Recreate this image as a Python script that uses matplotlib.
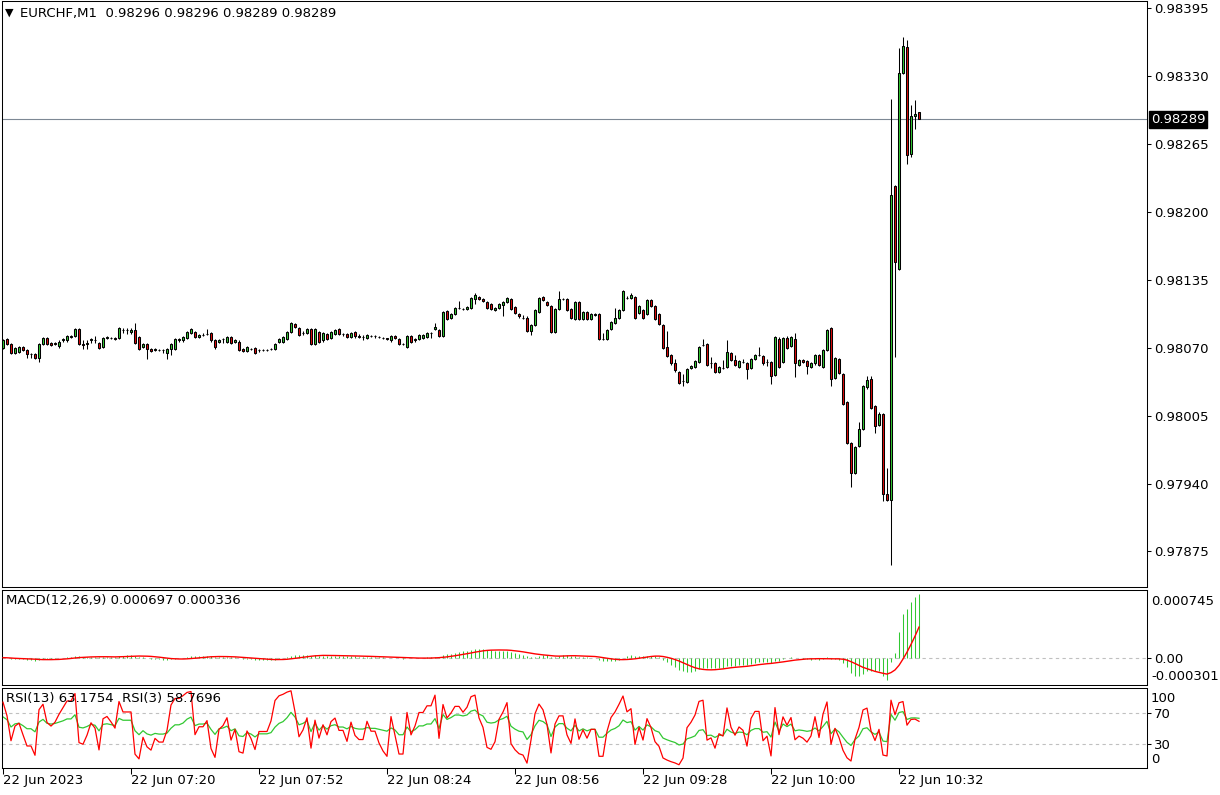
import numpy as np
import matplotlib
matplotlib.use("Agg")
import matplotlib.pyplot as plt

# ---------------- data (EURCHF M1, prices in points of 0.00001) ----------------
POINT = 1e-5
SYMBOL = "EURCHF,M1"
TIME_LABELS = ["22 Jun 2023", "22 Jun 07:20", "22 Jun 07:52", "22 Jun 08:24",
               "22 Jun 08:56", "22 Jun 09:28", "22 Jun 10:00", "22 Jun 10:32"]
TIME_LABEL_BARS = [0, 32, 64, 96, 128, 160, 192, 224]
PRICE_TICKS = [0.97875, 0.97940, 0.98005, 0.98070, 0.98135, 0.98200, 0.98265, 0.98330, 0.98395]

OPEN_PTS = [
    98070, 98078, 98074, 98065, 98066, 98071, 98068, 98064, 98064, 98060,
    98074, 98079, 98075, 98075, 98072, 98077, 98077, 98080, 98081, 98088,
    98074, 98074, 98077, 98077, 98075, 98071, 98079, 98079, 98079, 98079,
    98087, 98087, 98085, 98087, 98080, 98071, 98074, 98069, 98068, 98068,
    98068, 98065, 98069, 98069, 98077, 98077, 98079, 98084, 98085, 98080,
    98082, 98083, 98084, 98077, 98076, 98078, 98076, 98080, 98076, 98076,
    98069, 98067, 98069, 98070, 98068, 98068, 98068, 98069, 98069, 98076,
    98076, 98078, 98085, 98093, 98089, 98084, 98084, 98088, 98074, 98085,
    98077, 98083, 98079, 98083, 98088, 98083, 98083, 98080, 98085, 98081,
    98080, 98079, 98081, 98081, 98080, 98079, 98079, 98077, 98081, 98078,
    98074, 98071, 98081, 98077, 98078, 98079, 98080, 98084, 98088, 98087,
    98081, 98105, 98099, 98102, 98108, 98107, 98107, 98108, 98117, 98119,
    98117, 98114, 98112, 98106, 98108, 98111, 98114, 98117, 98109, 98102,
    98099, 98099, 98086, 98092, 98104, 98119, 98114, 98110, 98085, 98107,
    98117, 98117, 98107, 98098, 98114, 98098, 98104, 98098, 98101, 98102,
    98078, 98078, 98088, 98094, 98099, 98106, 98118, 98118, 98119, 98103,
    98106, 98102, 98116, 98110, 98102, 98092, 98071, 98063, 98055, 98047,
    98038, 98037, 98051, 98052, 98056, 98073, 98074, 98055, 98055, 98047,
    98051, 98052, 98065, 98058, 98052, 98056, 98055, 98051, 98059, 98063,
    98062, 98056, 98056, 98044, 98078, 98056, 98079, 98072, 98078, 98054,
    98058, 98057, 98052, 98055, 98063, 98052, 98068, 98089, 98041, 98059,
    98045, 98018, 97979, 97950, 97976, 97992, 98032, 98040, 98014, 97996,
    98007, 97930, 97924, 98225, 98145, 98333, 98358, 98256, 98292, 98296,
]
HIGH_PTS = [
    98078, 98079, 98075, 98071, 98072, 98072, 98069, 98065, 98065, 98075,
    98080, 98080, 98076, 98076, 98077, 98079, 98082, 98082, 98089, 98089,
    98077, 98077, 98079, 98081, 98076, 98080, 98081, 98080, 98080, 98090,
    98089, 98089, 98089, 98094, 98081, 98075, 98075, 98070, 98070, 98069,
    98069, 98070, 98075, 98079, 98079, 98081, 98086, 98089, 98086, 98083,
    98084, 98088, 98085, 98078, 98078, 98079, 98081, 98081, 98078, 98077,
    98070, 98072, 98070, 98071, 98069, 98069, 98069, 98070, 98075, 98079,
    98081, 98086, 98095, 98094, 98090, 98086, 98089, 98089, 98089, 98086,
    98085, 98084, 98086, 98088, 98089, 98084, 98084, 98085, 98086, 98083,
    98082, 98083, 98082, 98082, 98081, 98080, 98079, 98082, 98082, 98079,
    98075, 98082, 98082, 98079, 98083, 98083, 98085, 98085, 98094, 98088,
    98105, 98106, 98103, 98109, 98115, 98108, 98110, 98119, 98122, 98120,
    98118, 98115, 98113, 98109, 98113, 98115, 98119, 98118, 98110, 98103,
    98101, 98100, 98093, 98107, 98119, 98120, 98115, 98111, 98108, 98124,
    98118, 98118, 98108, 98115, 98115, 98105, 98105, 98103, 98103, 98103,
    98084, 98088, 98096, 98108, 98107, 98125, 98120, 98122, 98120, 98111,
    98107, 98117, 98117, 98111, 98103, 98093, 98086, 98064, 98059, 98048,
    98045, 98051, 98054, 98058, 98072, 98078, 98075, 98061, 98056, 98053,
    98058, 98077, 98066, 98063, 98058, 98059, 98056, 98060, 98064, 98071,
    98063, 98059, 98057, 98081, 98080, 98080, 98081, 98081, 98084, 98059,
    98059, 98058, 98056, 98064, 98064, 98069, 98088, 98090, 98061, 98060,
    98046, 98019, 97980, 97976, 97999, 98034, 98043, 98043, 98015, 98009,
    98008, 97955, 98308, 98226, 98357, 98368, 98365, 98302, 98307, 98296,
]
LOW_PTS = [
    98069, 98073, 98064, 98064, 98065, 98067, 98060, 98060, 98059, 98056,
    98073, 98073, 98072, 98073, 98070, 98076, 98076, 98079, 98080, 98073,
    98069, 98069, 98075, 98075, 98069, 98070, 98078, 98078, 98077, 98078,
    98084, 98083, 98083, 98074, 98068, 98070, 98059, 98066, 98067, 98067,
    98065, 98059, 98063, 98068, 98076, 98076, 98078, 98083, 98079, 98079,
    98081, 98082, 98076, 98069, 98075, 98075, 98075, 98074, 98075, 98067,
    98066, 98066, 98068, 98064, 98066, 98067, 98067, 98068, 98068, 98075,
    98075, 98077, 98084, 98089, 98081, 98082, 98083, 98073, 98073, 98075,
    98076, 98077, 98078, 98082, 98082, 98081, 98079, 98079, 98079, 98079,
    98077, 98078, 98080, 98079, 98079, 98078, 98077, 98076, 98078, 98073,
    98073, 98070, 98075, 98076, 98077, 98078, 98079, 98079, 98087, 98080,
    98080, 98097, 98098, 98101, 98107, 98106, 98106, 98107, 98112, 98116,
    98114, 98107, 98106, 98105, 98107, 98100, 98113, 98106, 98102, 98099,
    98098, 98085, 98082, 98091, 98103, 98115, 98110, 98084, 98084, 98106,
    98116, 98105, 98098, 98097, 98097, 98097, 98097, 98097, 98100, 98077,
    98077, 98077, 98087, 98093, 98098, 98105, 98117, 98117, 98098, 98102,
    98098, 98101, 98109, 98097, 98092, 98069, 98061, 98054, 98047, 98035,
    98033, 98036, 98050, 98051, 98055, 98072, 98053, 98051, 98046, 98046,
    98050, 98051, 98057, 98053, 98051, 98055, 98040, 98050, 98058, 98062,
    98054, 98053, 98035, 98043, 98051, 98055, 98069, 98071, 98042, 98053,
    98055, 98045, 98051, 98054, 98053, 98051, 98067, 98033, 98040, 98045,
    98015, 97978, 97937, 97949, 97975, 97991, 98031, 98011, 97988, 97995,
    97923, 97923, 97862, 98061, 98144, 98332, 98246, 98253, 98279, 98289,
]
CLOSE_PTS = [
    98077, 98074, 98065, 98070, 98071, 98068, 98064, 98064, 98060, 98074,
    98079, 98074, 98073, 98074, 98076, 98078, 98081, 98081, 98088, 98074,
    98073, 98075, 98078, 98077, 98070, 98079, 98080, 98079, 98078, 98089,
    98087, 98087, 98087, 98075, 98069, 98074, 98069, 98067, 98069, 98068,
    98068, 98069, 98074, 98078, 98078, 98080, 98085, 98088, 98080, 98082,
    98082, 98083, 98077, 98071, 98077, 98078, 98080, 98075, 98077, 98068,
    98067, 98071, 98069, 98065, 98068, 98068, 98068, 98069, 98074, 98078,
    98080, 98085, 98094, 98090, 98082, 98084, 98088, 98074, 98088, 98076,
    98084, 98078, 98085, 98087, 98083, 98083, 98080, 98084, 98081, 98080,
    98080, 98082, 98081, 98081, 98080, 98079, 98078, 98081, 98079, 98074,
    98074, 98081, 98076, 98078, 98082, 98082, 98084, 98084, 98090, 98081,
    98104, 98098, 98102, 98108, 98108, 98107, 98109, 98118, 98121, 98117,
    98115, 98108, 98107, 98108, 98112, 98114, 98118, 98107, 98103, 98100,
    98099, 98086, 98092, 98106, 98118, 98116, 98111, 98085, 98107, 98117,
    98117, 98106, 98099, 98114, 98098, 98104, 98098, 98102, 98102, 98078,
    98078, 98087, 98095, 98099, 98106, 98124, 98118, 98121, 98099, 98110,
    98099, 98116, 98110, 98098, 98093, 98070, 98062, 98055, 98049, 98036,
    98038, 98050, 98053, 98057, 98071, 98073, 98054, 98055, 98047, 98052,
    98051, 98066, 98058, 98054, 98057, 98056, 98050, 98059, 98063, 98063,
    98055, 98056, 98043, 98080, 98052, 98079, 98070, 98080, 98055, 98058,
    98056, 98053, 98055, 98063, 98054, 98068, 98087, 98040, 98060, 98046,
    98016, 97979, 97950, 97975, 97992, 98033, 98039, 98012, 97995, 98007,
    97930, 97924, 98216, 98152, 98333, 98359, 98255, 98292, 98294, 98289,
]

# indicator values at the first visible bar
RSI13_START = 65.0
RSI3_START = 84.0

MACD_LABEL = "MACD(12,26,9) 0.000697 0.000336"
RSI_LABEL = "RSI(13) 63.1754  RSI(3) 58.7696"
HEADER_VALUES = "0.98296 0.98296 0.98289 0.98289"

# ---------------- prepare ----------------
n = min(len(OPEN_PTS), len(HIGH_PTS), len(LOW_PTS), len(CLOSE_PTS))
o = np.array(OPEN_PTS[:n]) * POINT
h = np.array(HIGH_PTS[:n]) * POINT
l = np.array(LOW_PTS[:n]) * POINT
c = np.array(CLOSE_PTS[:n]) * POINT
idx = np.arange(n)


def ema(x, period):
    a = 2.0 / (period + 1)
    out = np.empty_like(x)
    out[0] = x[0]
    for k in range(1, len(x)):
        out[k] = a * x[k] + (1 - a) * out[k - 1]
    return out


def sma(x, period):
    out = np.empty_like(x)
    for k in range(len(x)):
        out[k] = x[max(0, k - period + 1):k + 1].mean()
    return out


def rsi(x, period, start):
    d = np.diff(x)
    up = np.where(d > 0, d, 0.0)
    dn = np.where(d < 0, -d, 0.0)
    m = np.abs(d[:period]).mean()
    ag = m * start / 100.0
    al = m * (1 - start / 100.0)
    out = np.empty(len(x))
    out[0] = start
    for k in range(len(d)):
        ag = (ag * (period - 1) + up[k]) / period
        al = (al * (period - 1) + dn[k]) / period
        out[k + 1] = 100.0 if al == 0 else 100 - 100 / (1 + ag / al)
    return out


macd_main = ema(c, 12) - ema(c, 26)
macd_signal = sma(macd_main, 9)
rsi13 = rsi(c, 13, RSI13_START)
rsi3 = rsi(c, 3, RSI3_START)

# ---------------- figure ----------------
W, H = 1220, 795
fig = plt.figure(figsize=(W / 100, H / 100), dpi=100)
fig.patch.set_facecolor("white")
plt.rcParams["font.family"] = ["DejaVu Sans"]


def axes_px(left, top, right, bottom):
    return fig.add_axes([left / W, 1 - bottom / H, (right - left) / W, (bottom - top) / H])


ax = axes_px(1.5, 1, 1147, 587)
axm = axes_px(1.5, 590, 1147, 685)
axr = axes_px(1.5, 688, 1147, 768)

GREEN = "#32c832"
RED = "#dc0a0a"
LW = 0.75
XLIM = (-0.375, 286)

for a in (ax, axm, axr):
    a.set_xlim(*XLIM)
    a.set_facecolor("white")
    for s in a.spines.values():
        s.set_color("black")
        s.set_linewidth(LW)
    a.tick_params(axis="x", which="both", bottom=False, labelbottom=False)
    a.yaxis.tick_right()
    a.tick_params(axis="y", direction="out", length=3, width=LW, pad=2,
                  labelsize=9.5, colors="black", left=False)

# ---- main candles ----
ax.set_ylim(0.97841, 0.98402)
ax.vlines(idx, l, h, color="black", lw=LW, zorder=2)
bull = c > o
bear = c < o
doji = c == o
bw = 0.7
ax.bar(idx[bull], (c - o)[bull], bottom=o[bull], width=bw, color=GREEN,
       edgecolor="black", linewidth=LW, zorder=3)
ax.bar(idx[bear], (o - c)[bear], bottom=c[bear], width=bw, color=RED,
       edgecolor="black", linewidth=LW, zorder=3)
ax.hlines(c[doji], idx[doji] - bw / 2, idx[doji] + bw / 2, color="black", lw=LW, zorder=3)

last = c[-1]
ax.axhline(last, color="#7d8894", lw=0.8, zorder=1)
ax.set_yticks(PRICE_TICKS)
ax.set_yticklabels([f"{t:.5f}" for t in PRICE_TICKS])
ax.annotate(f"{last:.5f}", xy=(1, last), xycoords=("axes fraction", "data"),
            xytext=(4, 0), textcoords="offset pixels", ha="left", va="center",
            fontsize=9.5, color="white",
            bbox=dict(boxstyle="square,pad=0.15", fc="black", ec="black"))

fig.text(5 / W, 1 - 13 / H, "\u25BC", fontsize=8, va="center", ha="left", color="black")
fig.text(20 / W, 1 - 13 / H, f"{SYMBOL}  {HEADER_VALUES}", fontsize=9.5,
         va="center", ha="left", color="black")

# ---- MACD ----
MACD_MAX, MACD_MIN = 0.000745, -0.000301
axm.set_ylim(MACD_MIN, MACD_MAX)
axm.axhline(0, color="#c0c0c0", lw=0.8, ls=(0, (3, 3)), zorder=1)
axm.vlines(idx, 0, macd_main, color=GREEN, lw=LW, zorder=2)
axm.plot(idx, macd_signal, color="#ff0000", lw=1.0, zorder=3)
axm.set_yticks([0])
axm.set_yticklabels(["0.00"])
axm.text(1 + 4 / 1145.5, 1 - 5 / 95, f"{MACD_MAX:.6f}", transform=axm.transAxes,
         fontsize=9.5, ha="left", va="top")
axm.text(1 + 4 / 1145.5, 2 / 95, f"{MACD_MIN:.6f}", transform=axm.transAxes,
         fontsize=9.5, ha="left", va="bottom")
axm.text(5 / 1145.5, 1 - 4 / 95, MACD_LABEL, transform=axm.transAxes,
         fontsize=9.5, ha="left", va="top")

# ---- RSI ----
axr.set_ylim(-1, 102.3)
for lev in (70, 30):
    axr.axhline(lev, color="#c0c0c0", lw=0.8, ls=(0, (3, 3)), zorder=1)
axr.plot(idx, rsi13, color=GREEN, lw=0.9, zorder=2)
axr.plot(idx, rsi3, color="#ff0000", lw=0.9, zorder=3)
axr.set_yticks([70, 30])
axr.set_yticklabels(["70", "30"])
axr.text(1 + 4 / 1145.5, 1 - 4 / 80, "100", transform=axr.transAxes,
         fontsize=9.5, ha="left", va="top")
axr.text(1 + 4 / 1145.5, 2 / 80, "0", transform=axr.transAxes,
         fontsize=9.5, ha="left", va="bottom")
axr.text(5 / 1145.5, 1 - 4 / 80, RSI_LABEL, transform=axr.transAxes,
         fontsize=9.5, ha="left", va="top")

axr.tick_params(axis="x", which="both", bottom=True, labelbottom=True,
                direction="out", length=4, width=LW, pad=0.5, labelsize=9.5)
axr.set_xticks(TIME_LABEL_BARS)
axr.set_xticklabels(TIME_LABELS, ha="left")

fig.savefig("out.png", dpi=100, facecolor="white")
